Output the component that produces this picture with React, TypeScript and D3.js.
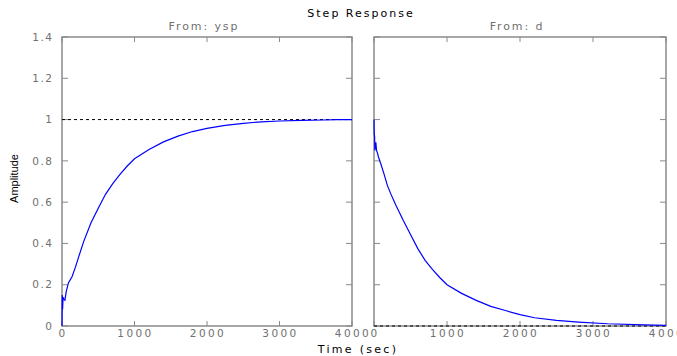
import React from 'react';
import * as d3 from 'd3';

const chartTitle = 'Step Response';
const xLabel = 'Time (sec)';
const yLabel = 'Amplitude';
const panelTitles = ['From: ysp', 'From: d'];
const timeTicks = [0, 1000, 2000, 3000, 4000];
const timeTickLabels = ['0', '1000', '2000', '3000', '4000'];
const ampTicks = [0, 0.2, 0.4, 0.6, 0.8, 1, 1.2, 1.4];
const ampTickLabels = ['0', '0.2', '0.4', '0.6', '0.8', '1', '1.2', '1.4'];
const refLevels = [1, 0];

const yspTime = [0, 3, 8, 15, 25, 40, 60, 90, 140, 185, 230, 300, 400, 500, 600, 700, 800, 900, 1000, 1200, 1400, 1600, 1800, 2000, 2250, 2500, 2750, 3000, 3300, 3600, 3800, 4000];
const yspAmp = [0, 0.15, 0.08, 0.14, 0.13, 0.125, 0.17, 0.21, 0.24, 0.285, 0.335, 0.41, 0.5, 0.57, 0.638, 0.69, 0.735, 0.775, 0.81, 0.855, 0.892, 0.92, 0.942, 0.957, 0.972, 0.982, 0.989, 0.993, 0.996, 0.998, 1.0, 1.0];

const dTime = [0, 3, 8, 12, 25, 35, 46, 60, 92, 138, 184, 230, 300, 400, 500, 600, 700, 800, 900, 1000, 1200, 1400, 1600, 1800, 2000, 2200, 2500, 2800, 3200, 3700, 4000];
const dAmp = [1.0, 0.93, 0.92, 0.85, 0.89, 0.85, 0.84, 0.82, 0.787, 0.736, 0.68, 0.64, 0.585, 0.512, 0.443, 0.375, 0.318, 0.274, 0.235, 0.2, 0.158, 0.124, 0.095, 0.075, 0.055, 0.04, 0.027, 0.019, 0.011, 0.005, 0.003];

const W = 677;
const H = 356;
const top = 37;
const bottom = 326;
const panelX = [[62, 352], [374, 666]];
const series = [
  { t: yspTime, a: yspAmp },
  { t: dTime, a: dAmp },
];

const font = '"DejaVu Sans", Verdana, sans-serif';
const narrowFont = '"Liberation Sans", Arial, sans-serif';
const axisColor = '#8a8a8a';
const textGray = '#707070';

export default function App() {
  const y = d3.scaleLinear().domain([0, 1.4]).range([bottom, top]);
  return (
    <svg width={W} height={H} style={{ position: 'absolute', left: 0, top: 0, background: '#fff' }} fontFamily={font}>
      <rect x={0} y={0} width={W} height={H} fill="#fff" />
      <text x={361} y={17} textAnchor="middle" fontSize={11} letterSpacing={2} fill="#000">{chartTitle}</text>
      <text x={358} y={353} textAnchor="middle" fontSize={11} letterSpacing={2.3} fill="#000">{xLabel}</text>
      <text transform={`translate(17.5,${(top + bottom) / 2 - 3}) rotate(-90)`} textAnchor="middle" fontSize={11} fontFamily={narrowFont} fill="#000">{yLabel}</text>
      {panelX.map(([x0, x1], pi) => {
        const x = d3.scaleLinear().domain([0, 4000]).range([x0, x1]);
        const line = d3.line<number>().x((_, i) => x(series[pi].t[i])).y((v) => y(v));
        return (
          <g key={pi}>
            <text x={(x0 + x1) / 2 - 3} y={30} textAnchor="middle" fontSize={11} letterSpacing={1.9} fill={textGray}>{panelTitles[pi]}</text>
            <rect x={x0} y={top} width={x1 - x0} height={bottom - top} fill="#fff" stroke={axisColor} strokeWidth={1.5} />
            {timeTicks.map((t, i) => (
              <g key={'xt' + i}>
                <line x1={x(t)} x2={x(t)} y1={bottom} y2={bottom - 5} stroke={axisColor} />
                <line x1={x(t)} x2={x(t)} y1={top} y2={top + 5} stroke={axisColor} />
                <text x={x(t) + 1} y={337} textAnchor="middle" fontSize={10.5} letterSpacing={2.4} fill={textGray}>{timeTickLabels[i]}</text>
              </g>
            ))}
            {ampTicks.map((v, i) => (
              <g key={'yt' + i}>
                <line x1={x0} x2={x0 + 6} y1={y(v)} y2={y(v)} stroke={axisColor} />
                <line x1={x1} x2={x1 - 6} y1={y(v)} y2={y(v)} stroke={axisColor} />
                {pi === 0 && (
                  <text x={x0 - 8.5} y={y(v)} dy="0.35em" textAnchor="end" fontSize={10.5} letterSpacing={1.5} fill={textGray}>{ampTickLabels[i]}</text>
                )}
              </g>
            ))}
            <line x1={x0} x2={x1} y1={y(refLevels[pi])} y2={y(refLevels[pi])} stroke="#000" strokeDasharray="3,3" strokeWidth={1} />
            <path d={line(series[pi].a) || ''} fill="none" stroke="#0000ff" strokeWidth={1.2} />
          </g>
        );
      })}
    </svg>
  );
}
